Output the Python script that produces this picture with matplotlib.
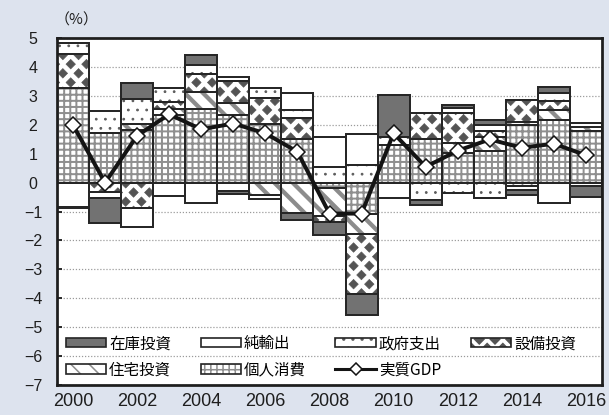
import numpy as np
import matplotlib
matplotlib.use("Agg")
import matplotlib.pyplot as plt
import matplotlib.hatch as mhatch
from matplotlib.path import Path
from matplotlib.patches import Patch
from matplotlib.lines import Line2D
from matplotlib.legend_handler import HandlerTuple

# ---------------- data ----------------
years = list(range(2000, 2017))
kojin = [3.29, 1.73, 1.82, 2.36, 2.55, 2.34, 2.02, 1.51, -0.20, -1.07, 1.30, 1.53, 1.03, 1.10, 1.99, 2.16, 1.78]
jutaku = [0.00, 0.00, 0.20, 0.20, 0.58, 0.41, -0.43, -1.04, -0.95, -0.72, 0.00, 0.00, 0.35, 0.50, 0.10, 0.37, 0.15]
setsubi = [1.16, -0.32, -0.87, 0.25, 0.63, 0.79, 0.90, 0.74, -0.20, -2.06, 0.00, 0.89, 1.05, 0.20, 0.77, 0.31, 0.00]
seifu = [0.38, 0.75, 0.88, 0.46, 0.32, 0.12, 0.35, 0.27, 0.55, 0.61, 0.30, -0.60, -0.34, -0.53, -0.10, 0.28, 0.15]
junyushutsu = [-0.84, -0.20, -0.66, -0.45, -0.72, -0.30, -0.12, 0.58, 1.02, 1.09, -0.52, 0.00, 0.15, 0.20, -0.15, -0.72, -0.10]
zaiko = [-0.05, -0.89, 0.54, 0.00, 0.35, -0.10, 0.00, -0.26, -0.45, -0.75, 1.43, -0.18, 0.11, 0.16, -0.17, 0.18, -0.38]
gdp = [2.00, 0.00, 1.63, 2.37, 1.85, 2.05, 1.71, 1.07, -1.07, -1.07, 1.71, 0.55, 1.11, 1.50, 1.21, 1.35, 0.95]

labels = ["在庫投資", "純輸出", "政府支出", "設備投資", "住宅投資", "個人消費", "実質GDP"]
xtick_years = list(range(2000, 2017, 2))
yticks = list(range(-7, 6))

# ---------------- custom diamond hatch (replaces '*') ----------------
class DiamondHatch(mhatch.HatchPatternBase):
    ncol = 7
    nrow = 12

    def __init__(self, hatch, density):
        if hatch.count('*') > 0:
            n = 0
            for r in range(self.nrow + 1):
                n += (self.ncol + 1) if r % 2 == 0 else self.ncol
            self.num_vertices = n * 5
        else:
            self.num_vertices = 0

    def set_vertices_and_codes(self, vertices, codes):
        hw = 0.30 / self.ncol
        hh = 0.52 / self.nrow
        shape = np.array([[0, -hh], [hw, 0], [0, hh], [-hw, 0], [0, -hh]])
        sc = [Path.MOVETO, Path.LINETO, Path.LINETO, Path.LINETO, Path.CLOSEPOLY]
        vs, cs = [], []
        for r in range(self.nrow + 1):
            y = r / self.nrow
            if r % 2 == 0:
                xs = np.arange(self.ncol + 1) / self.ncol
            else:
                xs = (np.arange(self.ncol) + 0.5) / self.ncol
            for xx in xs:
                vs.append(shape + [xx, y])
                cs.extend(sc)
        vertices[:] = np.concatenate(vs)
        codes[:] = cs

mhatch._hatch_types = [t for t in mhatch._hatch_types if t is not mhatch.Stars] + [DiamondHatch]

# ---------------- figure ----------------
DPI = 110
W, H = 609, 415
def pt(px):
    return px * 72.0 / DPI

BG = '#dde3ee'
fig = plt.figure(figsize=(W / DPI, H / DPI), dpi=DPI, facecolor=BG)
ax = fig.add_axes([57 / W, 1 - 384.7 / H, 545 / W, 346.3 / H])
ax.set_facecolor('white')

EDGE = '#262626'
styles = [
    # (values, face, hatch, hatchcolor, hatch lw)
    (kojin, 'white', '+++', '#8f8f8f', 1.3),
    (jutaku, 'white', '\\\\', '#8c8c8c', 2.8),
    (setsubi, 'white', '*', '#545454', 0.4),
    (seifu, 'white', '..', '#5a5a5a', 0.6),
    (junyushutsu, 'white', '', '#ffffff', 0.5),
    (zaiko, '#727272', '', '#727272', 0.5),
]

x = np.arange(len(years))
pos_base = np.zeros(len(years))
neg_base = np.zeros(len(years))
layer_patches = []
for vals, face, hatch, hc, hlw in styles:
    v = np.array(vals, dtype=float)
    idx = np.nonzero(v)[0]
    bottom = np.where(v >= 0, pos_base, neg_base)
    with plt.rc_context({'hatch.linewidth': hlw}):
        b1 = ax.bar(x[idx], v[idx], bottom=bottom[idx], width=1.0, color=face,
                    hatch=hatch if hatch else None, edgecolor=hc, linewidth=0, zorder=2)
        for p in b1:
            if hasattr(p, 'set_hatch_linewidth'):
                p.set_hatch_linewidth(hlw)
    ax.bar(x[idx], v[idx], bottom=bottom[idx], width=1.0, fill=False,
           edgecolor=EDGE, linewidth=1.3, zorder=3)
    with plt.rc_context({'hatch.linewidth': hlw}):
        ph = Patch(facecolor=face, hatch=hatch if hatch else None, edgecolor=hc, linewidth=0)
        if hasattr(ph, 'set_hatch_linewidth'):
            ph.set_hatch_linewidth(hlw)
    pb = Patch(fill=False, edgecolor=EDGE, linewidth=1.1)
    layer_patches.append((ph, pb))
    pos_base += np.where(v > 0, v, 0)
    neg_base += np.where(v < 0, v, 0)

ax.plot(x, gdp, color='#141414', linewidth=2.6, marker='D', markersize=7,
        markerfacecolor='white', markeredgecolor='#141414', markeredgewidth=1.0, zorder=5)

ax.set_xlim(-0.5, len(years) - 0.5)
ax.set_ylim(-7, 5)
ax.set_yticks(yticks)
ax.set_yticklabels([f"{t}" if t >= 0 else f"\u2212{abs(t)}" for t in yticks])
ax.set_xticks([years.index(y) for y in xtick_years])
ax.set_xticklabels([str(y) for y in xtick_years])

ax.yaxis.grid(True, linestyle=(0, (1, 1.5)), color='#9a9a9a', linewidth=0.8, zorder=0)
ax.set_axisbelow(True)
for s in ax.spines.values():
    s.set_linewidth(1.8)
    s.set_color('#1e1e1e')
    s.set_zorder(6)

ax.tick_params(axis='y', direction='in', length=pt(5), width=1.2, pad=pt(24),
               labelsize=pt(16), colors='#1e1e1e')
ax.tick_params(axis='x', length=0, pad=pt(8), labelsize=pt(18), colors='#1e1e1e')
for lab in ax.get_yticklabels():
    lab.set_fontfamily(['Liberation Sans', 'DejaVu Sans'])
    lab.set_horizontalalignment('center')
for lab in ax.get_xticklabels():
    lab.set_fontfamily(['Liberation Sans', 'DejaVu Sans'])

# legend
kp, jp, sp, gp, np_, zp = layer_patches
gdp_handle = Line2D([], [], color='#141414', linewidth=2.0, marker='D', markersize=5.5,
                    markerfacecolor='white', markeredgecolor='#141414', markeredgewidth=1.0)
handles = [zp, jp, np_, kp, gp, gdp_handle, sp]
order_labels = [labels[0], labels[4], labels[1], labels[5], labels[2], labels[6], labels[3]]
leg = ax.legend(handles, order_labels, ncol=4, loc='lower left', bbox_to_anchor=(0.016, 0.018),
                frameon=False, borderpad=0, borderaxespad=0,
                handlelength=2.6, handleheight=0.55, handletextpad=0.2, columnspacing=1.9,
                labelspacing=0.6,
                prop={'family': ['Noto Sans CJK JP', 'DejaVu Sans'], 'size': pt(15.5)},
                handler_map={tuple: HandlerTuple(ndivide=1, pad=0)})
leg.set_zorder(7)

fig.text(55 / W, 1 - 20 / H, '（%）', fontsize=pt(15), va='center', ha='left',
         family=['Noto Sans CJK JP', 'DejaVu Sans'], color='#1e1e1e')

fig.savefig('out.png', dpi=DPI, facecolor=BG)
